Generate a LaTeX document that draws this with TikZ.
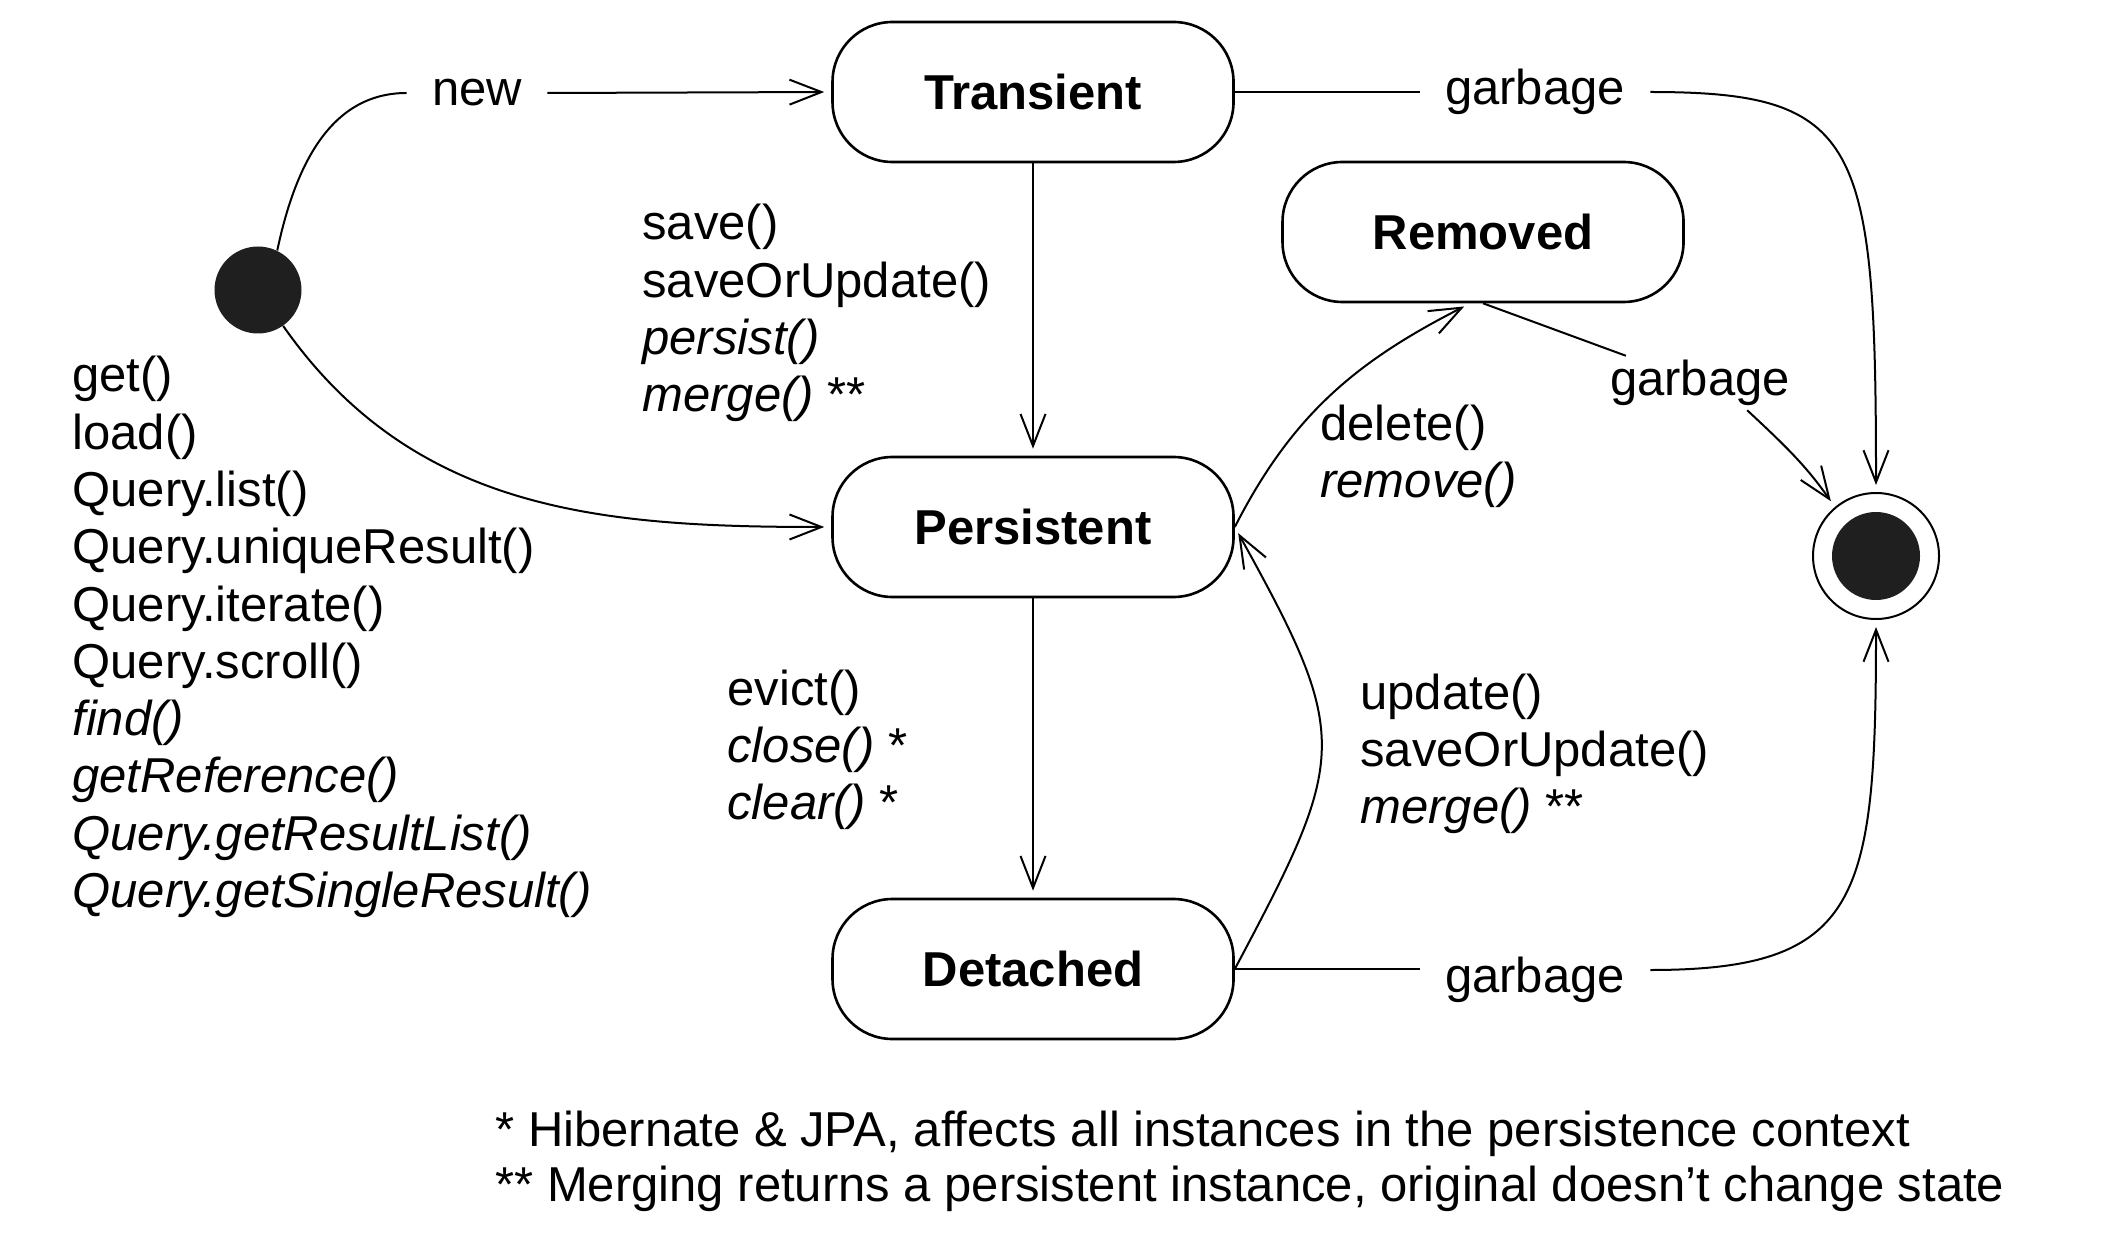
\documentclass[tikz,border=0pt]{standalone}
\usepackage{fontspec}
\setmainfont{Liberation Sans}
\usetikzlibrary{arrows.meta,calc}
\begin{document}
\begin{tikzpicture}[x=0.5pt,y=-0.5pt,
  every node/.style={font=\fontsize{24.5}{28.65}\selectfont},
  state/.style={draw, line width=1.3pt, rounded corners=30pt, minimum width=200.5pt,
    minimum height=70pt, inner sep=0pt, font=\fontsize{24.5}{28.65}\selectfont\bfseries},
  trans/.style={line width=1pt, -{Straight Barb[length=16pt,width=12.5pt]}, shorten >=3.5pt},
  plainline/.style={line width=1pt},
  lbl/.style={inner xsep=12.5pt, inner ysep=2pt},
  txt/.style={align=left, anchor=west, inner sep=0pt},
]
\fill[white] (0,0) rectangle (2118,1240);
\useasboundingbox (0,0) rectangle (2118,1240);

% states
\node[state] (T) at (1033,92) {Transient};
\node[state] (P) at (1033,527) {Persistent};
\node[state] (D) at (1033,969) {Detached};
\node[state] (R) at (1483,232) {Removed};
\node[circle, fill=black!88, minimum size=43.5pt, inner sep=0pt] (I) at (258,290) {};
\node[circle, draw, line width=1pt, minimum size=63pt, inner sep=0pt] (F) at (1876,556) {};
\node[circle, fill=black!88, minimum size=44pt, inner sep=0pt] (Fi) at (F.center) {};

% transition labels
\node[lbl] (new) at (477,93) {new};
\node[lbl] (g1) at (1535,92) {garbage};
\node[lbl] (g2) at (1700,383) {garbage};
\node[lbl] (g3) at (1535,980) {garbage};

% text blocks
\node[txt] (lst) at (72,637) {get()\\load()\\Query.list()\\Query.uniqueResult()\\Query.iterate()\\Query.scroll()\\\textit{find()}\\\textit{getReference()}\\\textit{Query.getResultList()}\\\textit{Query.getSingleResult()}};
\node[txt] (sv) at (642,313) {save()\\saveOrUpdate()\\\textit{persist()}\\\textit{merge()} **};
\node[txt] (ev) at (727,750) {evict()\\\textit{close()} *\\\textit{clear()} *};
\node[txt] (del) at (1320,456) {delete()\\\textit{remove()}};
\node[txt] (upd) at (1360,754) {update()\\saveOrUpdate()\\\textit{merge()} **};
\node[txt] (fn1) at (495,1134) {* Hibernate \& JPA, affects all instances in the persistence context};
\node[txt] (fn2) at (495,1189) {** Merging returns a persistent instance, original doesn't change state};

% connectors
\draw[plainline] (I.64) to[out=78,in=180] (new.west);
\draw[trans] (new.east) -- (T.west);
\draw[trans] (I) to[out=-55,in=180] (P.west);
\draw[trans] (T.south) -- (P.north);
\draw[trans] (P.south) -- (D.north);
\draw[plainline] (T.east) -- (g1.west);
\draw[trans] (g1.east) .. controls (1860,92) and (1876,140) .. (F.north);
\draw[plainline] (D.east) -- (g3.west |- D.east);
\draw[trans] ($(g3.east)+(0,-10)$) .. controls (1860,970) and (1876,900) .. (F.south);
\draw[plainline] (R.south) -- (g2);
\draw[trans] (g2.-30) to[out=-43,in=125] (F.130);
\draw[trans] (P.east) to[out=63,in=-153] (R.260);
\draw[trans] (D.east) to[out=62,in=-61,looseness=1.4] (P.east);
\end{tikzpicture}
\end{document}
